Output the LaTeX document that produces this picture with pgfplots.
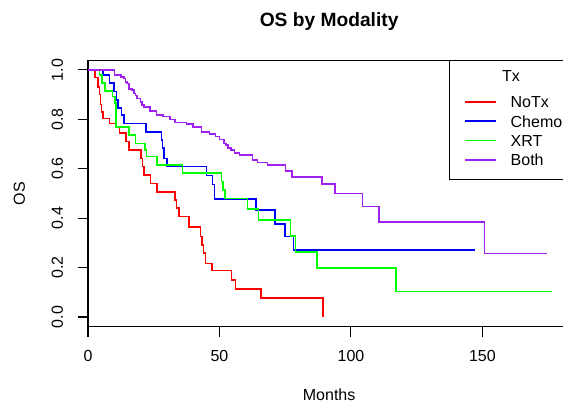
\documentclass[border=0pt]{standalone}
\usepackage{fontspec}
\setmainfont{Liberation Sans}
\usepackage{pgfplots}
\pgfplotsset{compat=1.18}
\definecolor{rpurple}{HTML}{A020F0}
\begin{document}
\begin{tikzpicture}
\useasboundingbox (0,0) rectangle (422.25pt,302.25pt);
\clip (0,0) rectangle (422.25pt,302.25pt);
\begin{axis}[
  at={(66pt,57.1pt)}, anchor=south west,
  scale only axis,
  width=361.7pt, height=200.1pt,
  xmin=0, xmax=183.4,
  ymin=-0.04, ymax=1.04,
  xtick={0,50,100,150},
  ytick={0,0.2,0.4,0.6,0.8,1},
  tick pos=left,
  tick align=outside,
  major tick length=7.5pt,
  every tick/.style={black, line width=0.8pt},
  axis line style={line width=0.8pt},
  font=\fontsize{12}{14}\selectfont,
  /pgf/number format/assume math mode=true,
  y tick label style={/pgf/number format/fixed, /pgf/number format/fixed zerofill, /pgf/number format/precision=1},
  xticklabel style={anchor=north, inner sep=0pt, yshift=-9.75pt},
  yticklabel style={xshift=-11pt, rotate=90, anchor=south, inner sep=0pt},
  every axis x label/.style={at={(axis description cs:0.5,0)}, yshift=-55pt, anchor=base},
  every axis y label/.style={at={(axis description cs:0,0.5)}, xshift=-47.25pt, rotate=90, anchor=base},
  every axis title/.style={at={(axis description cs:0.5,1)}, yshift=24.8pt, anchor=base, font=\bfseries\fontsize{14.4}{17}\selectfont},
  title={OS by Modality},
  xlabel={Months},
  ylabel={OS},
  legend style={at={(rel axis cs:1,1)}, anchor=north east, draw=black, line width=0.8pt,
    inner xsep=5.6pt, inner ysep=5.5pt, row sep=0pt, column sep=10.5pt,
    nodes={inner sep=0pt, anchor=base west, text height=10pt, text depth=4.5pt},
    font=\fontsize{12}{14}\selectfont},
  legend image code/.code={\path (0pt,0pt); \draw[#1] (5.65pt,4.6pt) -- (28.9pt,4.6pt);},
  const plot,
  every axis plot/.append style={line width=1.2pt},
]
\addlegendimage{empty legend}
\addlegendentry[text depth=10pt]{\rlap{\hspace*{-7pt}Tx}}

\addplot[red] coordinates {
(0,1) (2.7,0.97) (3.9,0.93) (4.4,0.90) (4.8,0.86) (5.2,0.83) (5.7,0.804)
(8.2,0.784) (10.7,0.770) (12.0,0.744) (14.5,0.710) (15.5,0.676)
(20.1,0.642) (20.8,0.609) (21.2,0.575) (23.7,0.541) (26.2,0.507)
(33.0,0.474) (33.6,0.440) (34.5,0.406) (38.5,0.365) (42.8,0.325)
(43.4,0.291) (43.9,0.258) (44.7,0.217) (47.1,0.188) (54.6,0.150)
(56.1,0.113) (65.8,0.076) (89.4,0)
};
\addlegendentry{NoTx}

\addplot[blue] coordinates {
(0,1) (5.6,0.98) (8.1,0.946) (10.0,0.912) (10.9,0.879) (11.5,0.845)
(12.8,0.818) (13.8,0.784) (22.0,0.748) (27.9,0.717) (28.4,0.683)
(28.9,0.642) (30.1,0.609) (45.0,0.572) (47.4,0.536) (48.1,0.478)
(63.9,0.433) (71.2,0.377) (75.0,0.325) (78.2,0.271) (147,0.271)
};
\addlegendentry{Chemo}

\addplot[green] coordinates {
(0,1) (4.4,0.98) (5.4,0.946) (6.5,0.915) (9.3,0.892) (10.2,0.865)
(10.6,0.770) (15.5,0.737) (18.0,0.703) (21.6,0.676) (22.2,0.649)
(26.3,0.615) (36.0,0.582) (50.8,0.548) (51.4,0.514) (52.0,0.480)
(60.7,0.438) (64.9,0.393) (77.0,0.329) (78.9,0.262) (87.0,0.198)
(117.2,0.1025) (176.3,0.1025)
};
\addlegendentry{XRT}

\addplot[rpurple] coordinates {
(0,1) (10.1,0.979) (12.6,0.972) (13.6,0.965) (14.3,0.951) (14.9,0.945)
(15.5,0.924) (16.8,0.918) (17.4,0.904) (18.1,0.897) (18.7,0.884)
(20.0,0.870) (20.6,0.857) (21.2,0.850) (23.5,0.835) (26.0,0.818)
(28.5,0.811) (31.1,0.800) (33.0,0.787) (37.4,0.780) (39.9,0.770)
(43.1,0.750) (46.2,0.741) (48.5,0.730) (50.0,0.719) (51.8,0.703)
(52.5,0.696) (53.2,0.683) (54.4,0.676) (55.7,0.663) (57.6,0.656)
(62.6,0.636) (64.5,0.625) (68.3,0.615) (75.1,0.592) (77.5,0.567)
(88.9,0.538) (93.9,0.500) (104.4,0.447) (110.6,0.385) (150.8,0.257)
(174.4,0.257)
};
\addlegendentry{Both}
\end{axis}
\end{tikzpicture}
\end{document}
